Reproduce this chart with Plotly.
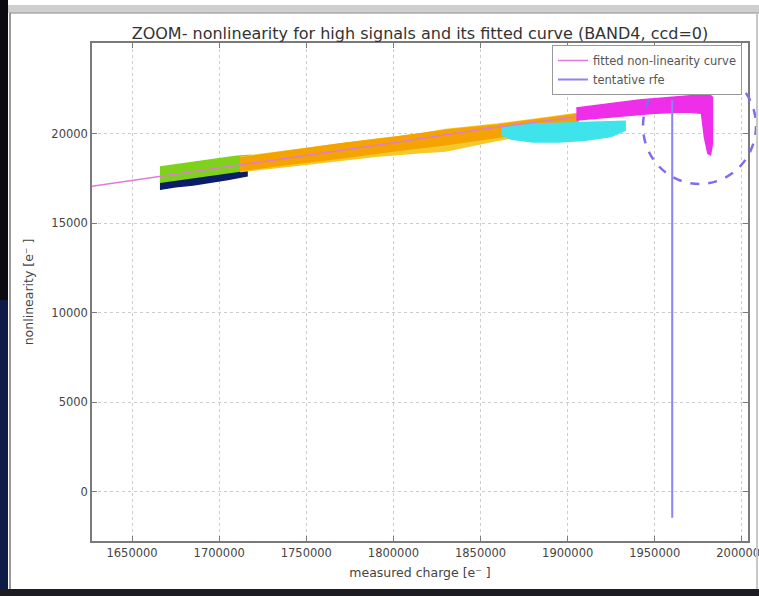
import plotly.graph_objects as go

# ---------------- data ----------------
x_ticks = [1650000, 1700000, 1750000, 1800000, 1850000, 1900000, 1950000, 2000000]
x_tick_labels = ["1650000", "1700000", "1750000", "1800000", "1850000", "1900000", "1950000", "2000000"]
y_ticks = [0, 5000, 10000, 15000, 20000]
y_tick_labels = ["0", "5000", "10000", "15000", "20000"]

# fitted non-linearity curve
fit_x = [1625000, 1700000, 1750000, 1800000, 1850000, 1900000, 1950000, 1980000]
fit_y = [17050, 18100, 18800, 19500, 20250, 20900, 21550, 21900]

# tentative rfe (vertical line)
rfe_x = [1960000, 1960000]
rfe_y = [21900, -1450]

# point clouds, given as upper / lower envelopes
navy_x = [1666000, 1675000, 1685000, 1695000, 1705000, 1716000]
navy_hi = [17550, 17650, 17800, 17900, 18000, 18050]
navy_lo = [16900, 17050, 17150, 17300, 17450, 17650]

green_x = [1666000, 1680000, 1695000, 1710000, 1718000]
green_hi = [18150, 18350, 18550, 18750, 18800]
green_lo = [17300, 17500, 17700, 17900, 18000]

gold_x = [1712000, 1750000, 1790000, 1815000, 1830000, 1845000, 1860000, 1880000, 1906000]
gold_hi = [18700, 19200, 19700, 20000, 20250, 20400, 20550, 20800, 21150]
gold_lo = [17900, 18300, 18750, 18950, 19050, 19350, 19650, 19950, 20350]

orange_x = [1712000, 1740000, 1770000, 1800000, 1830000, 1860000, 1880000, 1906000]
orange_hi = [18650, 19050, 19450, 19800, 20200, 20500, 20750, 21100]
orange_lo = [17950, 18300, 18650, 19050, 19400, 19800, 20100, 20450]

cyan_x = [1862000, 1868000, 1880000, 1895000, 1910000, 1925000, 1933000]
cyan_hi = [20350, 20450, 20550, 20600, 20650, 20700, 20700]
cyan_lo = [19950, 19700, 19550, 19550, 19650, 19850, 20200]

magenta_x = [1905000, 1920000, 1941000, 1960000, 1976000, 1980300, 1983100, 1983100,
             1982000, 1980500, 1978500, 1976800, 1968000, 1950000, 1930000, 1905000]
magenta_y = [21450, 21650, 21900, 22050, 22180, 22290, 22050, 19500,
             18830, 18900, 19800, 21150, 21230, 21150, 21000, 20780]

# ---------------- figure ----------------
W, H = 759, 596
L, R, T, B = 92, 748, 43, 541


def pxx(x):
    return (x - L) / (R - L)


def pxy(y):
    return (B - y) / (B - T)


fig = go.Figure()


def band(xs, hi, lo, color):
    fig.add_trace(go.Scatter(
        x=list(xs) + list(xs)[::-1],
        y=list(hi) + list(lo)[::-1],
        fill="toself", fillcolor=color, mode="lines",
        line=dict(color=color, width=1.5),
        hoverinfo="skip", showlegend=False))


band(navy_x, navy_hi, navy_lo, "#0b1d66")
band(green_x, green_hi, green_lo, "#7fd21c")
band(gold_x, gold_hi, gold_lo, "#f6c92a")
band(orange_x, orange_hi, orange_lo, "#f5a300")
band(cyan_x, cyan_hi, cyan_lo, "#3fe3ec")

fig.add_trace(go.Scatter(x=fit_x, y=fit_y, mode="lines",
                         line=dict(color="#e07ad6", width=1.5),
                         name="fitted non-linearity curve"))

fig.add_trace(go.Scatter(x=magenta_x, y=magenta_y, fill="toself", fillcolor="#ee2ee8",
                         mode="lines", line=dict(color="#ee2ee8", width=1.5),
                         hoverinfo="skip", showlegend=False))

fig.add_trace(go.Scatter(x=rfe_x, y=rfe_y, mode="lines",
                         line=dict(color="#8c84f0", width=2),
                         name="tentative rfe"))

shapes = []
# dashed circle annotation
shapes.append(dict(type="circle", xref="paper", yref="paper",
                   x0=pxx(643), x1=pxx(756), y0=pxy(184), y1=pxy(68),
                   line=dict(color="#7d6ef0", width=2.5, dash="dash")))
# window frame around the screenshot
shapes.append(dict(type="rect", xref="paper", yref="paper", layer="above",
                   x0=pxx(0), x1=pxx(8), y0=pxy(0), y1=pxy(300),
                   fillcolor="#0a0a10", line=dict(width=0)))
shapes.append(dict(type="rect", xref="paper", yref="paper", layer="above",
                   x0=pxx(0), x1=pxx(8), y0=pxy(300), y1=pxy(596),
                   fillcolor="#101a48", line=dict(width=0)))
shapes.append(dict(type="rect", xref="paper", yref="paper", layer="above",
                   x0=pxx(8), x1=pxx(759), y0=pxy(5), y1=pxy(13),
                   fillcolor="#cfcfcf", line=dict(width=0)))
shapes.append(dict(type="line", xref="paper", yref="paper", layer="above",
                   x0=pxx(9), x1=pxx(759), y0=pxy(13), y1=pxy(13),
                   line=dict(color="#aaaaaa", width=1.5)))
shapes.append(dict(type="line", xref="paper", yref="paper", layer="above",
                   x0=pxx(10), x1=pxx(10), y0=pxy(13), y1=pxy(590),
                   line=dict(color="#9a9a9a", width=2)))
shapes.append(dict(type="line", xref="paper", yref="paper", layer="above",
                   x0=pxx(757), x1=pxx(757), y0=pxy(13), y1=pxy(590),
                   line=dict(color="#c8c8c8", width=2)))
shapes.append(dict(type="rect", xref="paper", yref="paper", layer="above",
                   x0=pxx(0), x1=pxx(759), y0=pxy(589), y1=pxy(596),
                   fillcolor="#1c1c22", line=dict(width=0)))

axis_common = dict(
    showline=True, linecolor="#7a7a7a", linewidth=1.5, mirror="allticks",
    ticks="inside", ticklen=5, tickcolor="#7a7a7a", automargin=False,
    showgrid=True, gridcolor="#cccccc", griddash="dot", gridwidth=1,
    zeroline=False, tickfont=dict(family="DejaVu Sans", size=11.5, color="#444444"),
)

fig.update_layout(
    template="none",
    width=W, height=H, autosize=False,
    margin=dict(l=L, r=W - R, t=T, b=H - B, pad=0),
    paper_bgcolor="white", plot_bgcolor="white",
    font=dict(family="DejaVu Sans", color="#333333"),
    title=dict(text="ZOOM- nonlinearity for high signals and its fitted curve (BAND4, ccd=0)",
               x=pxx(420), xref="paper", xanchor="center",
               y=1 - 33 / H, yref="container", yanchor="middle",
               font=dict(family="DejaVu Sans", size=16, color="#333333")),
    xaxis=dict(range=[1627000, 2003500], tickvals=x_ticks, ticktext=x_tick_labels,
               ticklabeloverflow="allow",
               title=dict(text="measured charge [e⁻ ]", standoff=10,
                          font=dict(family="DejaVu Sans", size=12.5, color="#444444")),
               **axis_common),
    yaxis=dict(range=[-2750, 25080], tickvals=y_ticks, ticktext=y_tick_labels,
               title=dict(text="nonlinearity [e⁻ ]", standoff=15,
                          font=dict(family="DejaVu Sans", size=12.5, color="#444444")),
               **axis_common),
    legend=dict(x=pxx(742), xanchor="right", y=pxy(45), yanchor="top",
                bgcolor="white", bordercolor="#999999", borderwidth=1,
                font=dict(family="DejaVu Sans", size=11.5, color="#555555"),
                tracegroupgap=0),
    shapes=shapes,
    showlegend=True,
)

fig.write_html("out.html")
